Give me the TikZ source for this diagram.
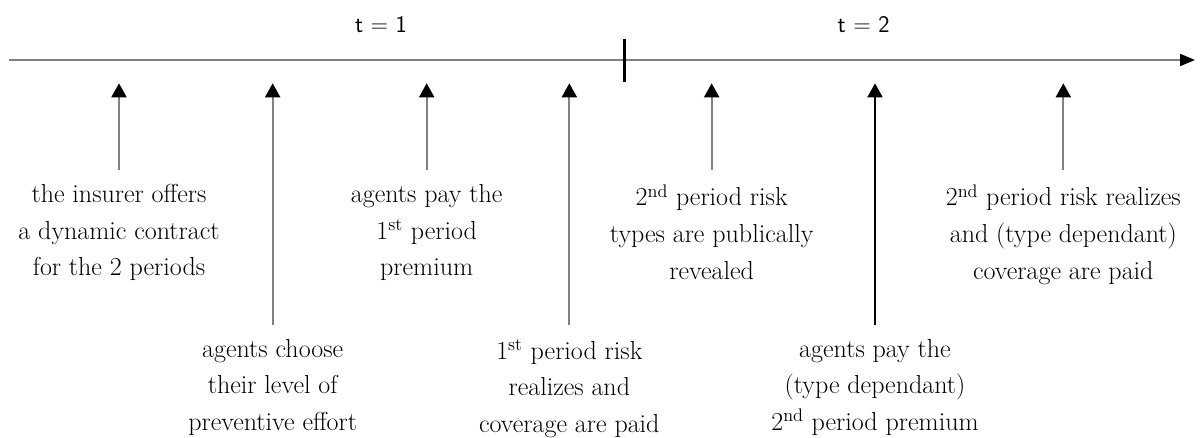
\documentclass[tikz,border=0pt]{standalone}
\usetikzlibrary{arrows.meta}
\usetikzlibrary{positioning}
\definecolor{linegray}{gray}{0.5}
\tikzset{
	timeline/.style={line width=0.05cm, linegray, -{Triangle[length=0.375cm, width=0.3cm, black]}},
	eventarrow/.style={line width=0.05cm, -{Triangle[length=0.35cm, width=0.375cm, black]}},
	eventlabel/.style={inner sep=0pt, outer xsep=0pt, outer ysep=0.36cm, align=center,
		font=\fontsize{18.5}{26}\selectfont,
		execute at begin node=\vphantom{2\textsuperscript{nd}}},
	periodlabel/.style={inner sep=0pt, font=\sffamily\fontsize{17}{20}\selectfont}
}
\newcommand{\timeevent}[5] % name, x in cm, drop below the line, shaft colour, text
{
	% point on the time line
	\coordinate (#1) at (#2, 8.867);
	% description
	\node[eventlabel, below=#3 of #1] (#1txt) {#5};
	% arrow up to the line
	\draw[eventarrow, draw=#4] (#1txt.north) -- (#1);
}
\begin{document}
\begin{tikzpicture}
	\useasboundingbox (0, 0) rectangle (30.075, 10.95);
	% time line
	\coordinate (tlstart) at (0.225, 9.45);
	\coordinate (tlend) at (29.875, 9.45);
	\draw[timeline] (tlstart) -- (tlend);
	% end of the first period
	\draw[line width=0.075cm] (15.6, 9.975) -- (15.6, 8.9);
	% periods
	\node[periodlabel] (tone) at (9.525, 10.325) {t = 1};
	\node[periodlabel] (ttwo) at (21.59, 10.325) {t = 2};
	% first period
	\timeevent{insurer}{2.975}{2.17cm}{linegray}{the insurer offers\\a dynamic contract\\for the 2 periods};
	\timeevent{effort}{6.817}{6.04cm}{linegray}{agents choose\\their level of\\preventive effort};
	\timeevent{premone}{10.667}{2.17cm}{linegray}{agents pay the\\1\textsuperscript{st} period\\premium};
	\timeevent{riskone}{14.233}{6.04cm}{linegray}{1\textsuperscript{st} period risk\\realizes and\\coverage are paid};
	% second period
	\timeevent{types}{17.792}{2.17cm}{linegray}{2\textsuperscript{nd} period risk\\types are publically\\revealed};
	\timeevent{premtwo}{21.875}{6.04cm}{black}{agents pay the\\(type dependant)\\2\textsuperscript{nd} period premium};
	\timeevent{risktwo}{26.583}{2.17cm}{linegray}{2\textsuperscript{nd} period risk realizes\\and (type dependant)\\coverage are paid};
\end{tikzpicture}
\end{document}
